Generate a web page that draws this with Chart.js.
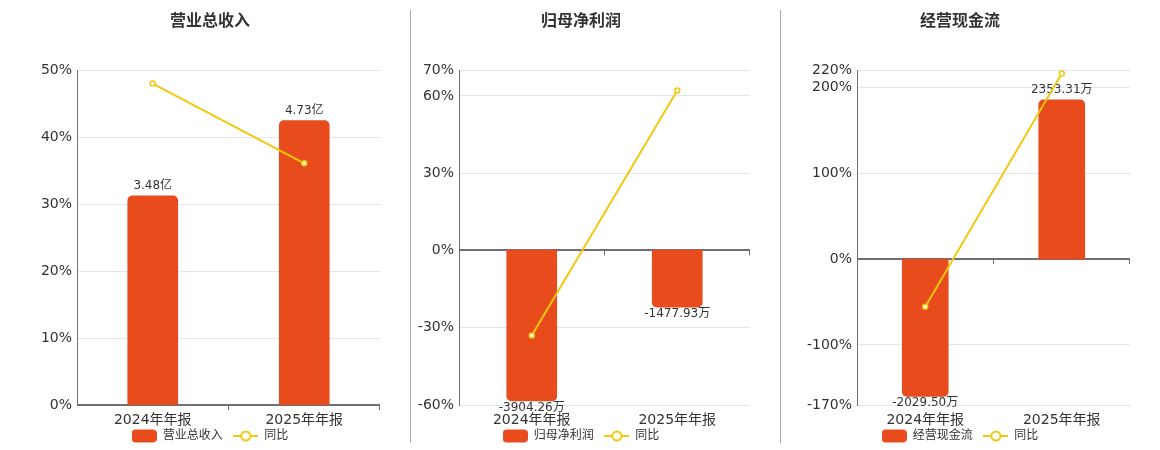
<!DOCTYPE html>
<html>
<head>
<meta charset="utf-8">
<script src="https://cdn.jsdelivr.net/npm/chart.js@4/dist/chart.umd.min.js"></script>
<style>
    body { margin: 0; background: #fff; }
    #wrap { position: relative; width: 1160px; height: 450px; }
    canvas { position: absolute; top: 0; }
    .sep { position: absolute; top: 10px; height: 433px; width: 1px; background: #aaa; }
</style>
</head>
<body>
<div id="wrap">
    <canvas id="c1" width="341" height="450" style="left:40px"></canvas>
    <canvas id="c2" width="339" height="450" style="left:412px"></canvas>
    <canvas id="c3" width="341" height="450" style="left:790px"></canvas>
    <div class="sep" style="left:410px"></div>
    <div class="sep" style="left:780px"></div>
</div>
<script>
// data
const periods = ['2024年年报', '2025年年报'];

const revenueValues = [3.48, 4.73];          // 亿
const revenueYoY = [48.0, 36.1];             // %
const revenueTicks = [0, 10, 20, 30, 40, 50];

const profitValues = [-3904.26, -1477.93];   // 万
const profitYoY = [-33.0, 62.1];
const profitTicks = [-60, -30, 0, 30, 60, 70];

const cashValues = [-2029.50, 2353.31];      // 万
const cashYoY = [-55.5, 216.2];
const cashTicks = [-170, -100, 0, 100, 200, 220];

const RED = '#E84B1C';
const YELLOW = '#F2C80F';
const AXIS = '#6E7079';
const GRID = '#E0E6F1';
const TEXT = '#333';
const FONT = "'DejaVu Sans', 'Noto Sans CJK SC', sans-serif";

// legend icons
function barIcon() {
    const c = document.createElement('canvas');
    c.width = 25; c.height = 14;
    const g = c.getContext('2d');
    g.fillStyle = RED;
    g.beginPath();
    g.roundRect(0, 0.5, 25, 13, 4);
    g.fill();
    return c;
}

function lineIcon() {
    const c = document.createElement('canvas');
    c.width = 25; c.height = 14;
    const g = c.getContext('2d');
    g.strokeStyle = YELLOW;
    g.lineWidth = 2;
    g.beginPath();
    g.moveTo(0, 7); g.lineTo(25, 7);
    g.stroke();
    g.beginPath();
    g.arc(12.5, 7, 4.5, 0, Math.PI * 2);
    g.fillStyle = '#fff';
    g.fill();
    g.stroke();
    return c;
}

// value labels on the bars, drawn before the line so the line stays on top
const barLabels = {
    id: 'barLabels',
    afterDatasetDraw(chart, args) {
        if (args.index !== 0) return;
        const ctx = chart.ctx;
        const ds = chart.data.datasets[0];
        ctx.save();
        ctx.font = `12px ${FONT}`;
        ctx.fillStyle = TEXT;
        ctx.textAlign = 'center';
        args.meta.data.forEach((bar, i) => {
            const v = ds.data[i];
            const txt = v.toFixed(2) + ds.unit;
            if (v >= 0) {
                ctx.textBaseline = 'bottom';
                ctx.fillText(txt, bar.x, bar.y - 4);
            } else {
                ctx.textBaseline = 'top';
                ctx.fillText(txt, bar.x, bar.y + 1);
            }
        });
        ctx.restore();
    }
};

// small category ticks hanging under the zero line
const zeroTicks = {
    id: 'zeroTicks',
    beforeDatasetsDraw(chart) {
        const ctx = chart.ctx;
        const y = chart.scales.y.getPixelForValue(0);
        const { left, right } = chart.chartArea;
        const n = chart.data.labels.length;
        ctx.save();
        ctx.strokeStyle = AXIS;
        ctx.lineWidth = 1;
        for (let i = 1; i <= n; i++) {
            const x = Math.round(left + (right - left) * i / n) - 0.5;
            ctx.beginPath();
            ctx.moveTo(x, y);
            ctx.lineTo(x, y + 5);
            ctx.stroke();
        }
        ctx.restore();
    }
};

function drawPanel(p) {
    const bar = barIcon();
    const line = lineIcon();
    new Chart(document.getElementById(p.id), {
        type: 'bar',
        data: {
            labels: periods,
            datasets: [
                {
                    type: 'bar',
                    label: p.name,
                    unit: p.unit,
                    data: p.values,
                    yAxisID: 'y1',
                    backgroundColor: RED,
                    borderRadius: 5,
                    barThickness: p.barWidth,
                    order: 1,
                },
                {
                    type: 'line',
                    label: '同比',
                    data: p.yoy,
                    yAxisID: 'y',
                    borderColor: YELLOW,
                    borderWidth: 2,
                    pointRadius: 2.5,
                    pointBorderWidth: 1.5,
                    pointBackgroundColor: '#fff',
                    pointBorderColor: YELLOW,
                    tension: 0,
                    clip: false,
                    order: 0,
                },
            ],
        },
        options: {
            responsive: false,
            animation: false,
            layout: { autoPadding: false, padding: { left: 0, right: 1, top: 0, bottom: -2 } },
            plugins: {
                tooltip: { enabled: false },
                title: {
                    display: true,
                    text: p.title,
                    color: TEXT,
                    font: { size: 16, weight: 'bold', family: FONT },
                    padding: { top: 12, bottom: 39 },
                },
                legend: {
                    position: 'bottom',
                    labels: {
                        usePointStyle: true,
                        pointStyleWidth: 25,
                        padding: 3,
                        color: TEXT,
                        font: { size: 12, family: FONT },
                        generateLabels: () => [
                            { text: p.name + '  ', pointStyle: bar, fillStyle: RED, strokeStyle: RED, lineWidth: 0, datasetIndex: 0, hidden: false, fontColor: TEXT },
                            { text: '同比', pointStyle: line, fillStyle: YELLOW, strokeStyle: YELLOW, lineWidth: 0, datasetIndex: 1, hidden: false, fontColor: TEXT },
                        ],
                    },
                },
            },
            scales: {
                x: {
                    grid: { display: false, drawTicks: false },
                    border: { display: false },
                    ticks: { color: TEXT, padding: 8, font: { size: 14, family: FONT, lineHeight: 1 } },
                    afterFit: s => { s.height = 22; },
                },
                y: {
                    position: 'left',
                    min: p.ticks[0],
                    max: p.ticks[p.ticks.length - 1],
                    afterBuildTicks: s => { s.ticks = p.ticks.map(v => ({ value: v })); },
                    afterFit: s => { s.width = p.yWidth; },
                    grid: {
                        drawTicks: false,
                        color: c => (c.tick && c.tick.value === 0 ? AXIS : GRID),
                        lineWidth: c => (c.tick && c.tick.value === 0 ? 2 : 1),
                    },
                    border: { color: AXIS, width: 1 },
                    ticks: {
                        autoSkip: false,
                        padding: 5,
                        color: TEXT,
                        font: { size: 14, family: FONT },
                        callback: v => v + '%',
                    },
                },
                y1: {
                    display: false,
                    min: p.barRange[0],
                    max: p.barRange[1],
                },
            },
        },
        plugins: [barLabels, zeroTicks],
    });
}

drawPanel({ id: 'c1', title: '营业总收入', name: '营业总收入', unit: '亿', values: revenueValues, yoy: revenueYoY, ticks: revenueTicks, barRange: [0, 5.57], yWidth: 37, barWidth: 50 });
drawPanel({ id: 'c2', title: '归母净利润', name: '归母净利润', unit: '万', values: profitValues, yoy: profitYoY, ticks: profitTicks, barRange: [-4008, 4655], yWidth: 47, barWidth: 50 });
drawPanel({ id: 'c3', title: '经营现金流', name: '经营现金流', unit: '万', values: cashValues, yoy: cashYoY, ticks: cashTicks, barRange: [-2157, 2792], yWidth: 67, barWidth: 46 });
</script>
</body>
</html>
